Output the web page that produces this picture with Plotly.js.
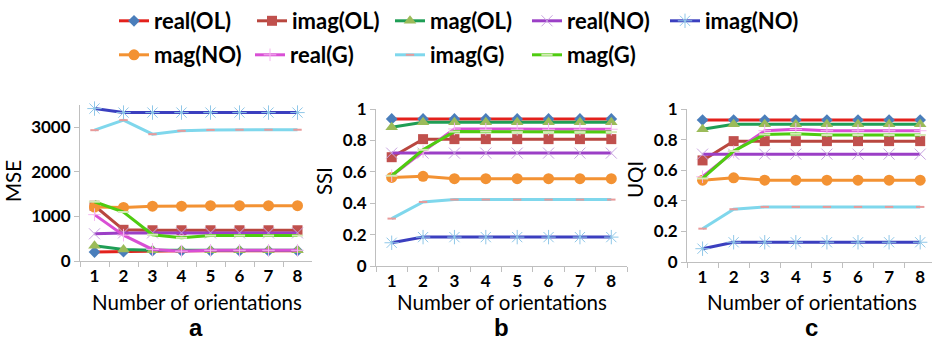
<!DOCTYPE html>
<html>
<head>
<meta charset="utf-8">
<script src="https://cdn.plot.ly/plotly-3.0.1.min.js"></script>
<style>html,body{margin:0;padding:0;background:#fff}#chart{width:932px;height:342px}</style>
</head>
<body>
<div id="chart"></div>
<script>
// ---- data ----
const orientations = ['1','2','3','4','5','6','7','8'];
const seriesNames = ['real(OL)','imag(OL)','mag(OL)','real(NO)','imag(NO)','mag(NO)','real(G)','imag(G)','mag(G)'];

// MSE (panel a)
const mse_realOL = [200, 210, 230, 230, 230, 230, 230, 230];
const mse_imagOL = [1240, 700, 690, 690, 690, 690, 690, 690];
const mse_magOL  = [340, 260, 240, 240, 240, 240, 240, 240];
const mse_realNO = [610, 630, 630, 630, 630, 630, 630, 630];
const mse_imagNO = [3420, 3330, 3330, 3330, 3330, 3330, 3330, 3330];
const mse_magNO  = [1210, 1200, 1230, 1230, 1240, 1240, 1240, 1240];
const mse_realG  = [1040, 580, 260, 220, 240, 240, 240, 240];
const mse_imagG  = [2935, 3160, 2845, 2920, 2940, 2945, 2945, 2945];
const mse_magG   = [1330, 1100, 590, 520, 570, 570, 570, 570];

// SSI (panel b)
const ssi_realOL = [0.937, 0.937, 0.937, 0.937, 0.937, 0.937, 0.937, 0.937];
const ssi_imagOL = [0.693, 0.808, 0.808, 0.808, 0.808, 0.808, 0.808, 0.808];
const ssi_magOL  = [0.884, 0.915, 0.915, 0.915, 0.915, 0.915, 0.915, 0.915];
const ssi_realNO = [0.719, 0.719, 0.719, 0.719, 0.719, 0.719, 0.719, 0.719];
const ssi_imagNO = [0.148, 0.184, 0.184, 0.184, 0.184, 0.184, 0.184, 0.184];
const ssi_magNO  = [0.564, 0.571, 0.556, 0.556, 0.556, 0.556, 0.556, 0.556];
const ssi_realG  = [0.575, 0.729, 0.873, 0.871, 0.871, 0.871, 0.871, 0.871];
const ssi_imagG  = [0.302, 0.408, 0.423, 0.423, 0.423, 0.423, 0.423, 0.423];
const ssi_magG   = [0.575, 0.740, 0.856, 0.856, 0.853, 0.853, 0.853, 0.853];

// UQI (panel c)
const uqi_realOL = [0.928, 0.928, 0.928, 0.928, 0.928, 0.928, 0.928, 0.928];
const uqi_imagOL = [0.664, 0.790, 0.790, 0.790, 0.790, 0.790, 0.790, 0.790];
const uqi_magOL  = [0.867, 0.900, 0.900, 0.900, 0.900, 0.900, 0.900, 0.900];
const uqi_realNO = [0.705, 0.705, 0.705, 0.705, 0.705, 0.705, 0.705, 0.705];
const uqi_imagNO = [0.087, 0.129, 0.129, 0.129, 0.129, 0.129, 0.129, 0.129];
const uqi_magNO  = [0.535, 0.550, 0.535, 0.535, 0.535, 0.535, 0.535, 0.535];
const uqi_realG  = [0.557, 0.720, 0.858, 0.867, 0.858, 0.858, 0.858, 0.858];
const uqi_imagG  = [0.218, 0.345, 0.360, 0.360, 0.360, 0.360, 0.360, 0.360];
const uqi_magG   = [0.546, 0.725, 0.834, 0.838, 0.830, 0.830, 0.830, 0.830];

const panelA = [mse_realOL, mse_imagOL, mse_magOL, mse_realNO, mse_imagNO, mse_magNO, mse_realG, mse_imagG, mse_magG];
const panelB = [ssi_realOL, ssi_imagOL, ssi_magOL, ssi_realNO, ssi_imagNO, ssi_magNO, ssi_realG, ssi_imagG, ssi_magG];
const panelC = [uqi_realOL, uqi_imagOL, uqi_magOL, uqi_realNO, uqi_imagNO, uqi_magNO, uqi_realG, uqi_imagG, uqi_magG];

// ---- styles ----
const styles = [
  {line:'#e3211c', mcol:'#4a7ebb', sym:'diamond', size:9, mlw:0},
  {line:'#b9473f', mcol:'#c0504d', sym:'square', size:10, mlw:0},
  {line:'#1f9e55', mcol:'#9bbb59', sym:'triangle-up', size:11, mlw:0},
  {line:'#9b3fc6', mcol:'#c8a4e0', sym:'x-thin-open', size:11, mlw:1},
  {line:'#3b3fbf', mcol:'#8fc7e8', sym:'asterisk-open', size:12, mlw:1},
  {line:'#f39233', mcol:'#f39233', sym:'circle', size:11, mlw:0},
  {line:'#d94fd5', mcol:'#f4b6f0', sym:'cross-thin-open', size:9, mlw:1},
  {line:'#7fd7ec', mcol:'#e89a9a', sym:'line-ew-open', size:6, mlw:2},
  {line:'#4fcc10', mcol:'#d5eab7', sym:'line-ew-open', size:8, mlw:2}
];

const W = 932, H = 342;
const traces = [];
const panels = [[panelA,'x','y'],[panelB,'x2','y2'],[panelC,'x3','y3']];
panels.forEach(function(p, pi){
  p[0].forEach(function(vals, i){
    const s = styles[i];
    traces.push({
      type:'scatter', mode:'lines+markers', x: orientations, y: vals,
      xaxis:p[1], yaxis:p[2], name: seriesNames[i],
      showlegend: pi === 0,
      legend: i === 0 ? 'legend' : 'legend' + (i+1),
      line:{color:s.line, width:3},
      marker:{symbol:s.sym, size:s.size, color:s.mcol, line:{color:s.mcol, width:s.mlw}},
      cliponaxis:false
    });
  });
});

const tickFont = {family:'Lato, "Open Sans", sans-serif', size:17, weight:700, color:'#000'};
function xax(d0, d1, r1, anchor){
  return {domain:[d0/W, d1/W], anchor:anchor, type:'category', range:[-0.5, r1],
    tickson:'boundaries', ticks:'outside', ticklen:5, tickcolor:'#bfbfbf',
    showline:true, linecolor:'#bfbfbf', linewidth:1, showgrid:false, zeroline:false,
    tickfont:tickFont, automargin:false, fixedrange:true};
}
function yax(b, t, range, dtick, anchor){
  return {domain:[(H-b)/H, (H-t)/H], anchor:anchor, range:range, dtick:dtick, tick0:0,
    ticks:'outside', ticklen:5, tickcolor:'#bfbfbf', showline:true, linecolor:'#bfbfbf', linewidth:1,
    showgrid:false, zeroline:false, tickfont:tickFont, automargin:false, fixedrange:true};
}

const layout = {
  width:W, height:H, margin:{l:0,r:0,t:0,b:0}, paper_bgcolor:'#fff', plot_bgcolor:'rgba(0,0,0,0)',
  xaxis: xax(80, 312, 7.5, 'y'),
  yaxis: yax(261, 105, [0,3500], 1000, 'x'),
  xaxis2: xax(376, 627, 7.5, 'y2'),
  yaxis2: yax(266, 109, [0,1], 0.2, 'x2'),
  xaxis3: xax(687, 932, 7.38, 'y3'),
  yaxis3: yax(262, 109, [0,1], 0.2, 'x3'),
  annotations: [],
  showlegend:true
};

// legends: one per entry, placed on two rows
const legendTextX = [154, 292, 430, 567, 705, 154, 290, 430, 567];
const legendRowY  = [21, 21, 21, 21, 21, 55, 55, 55, 55];
const legFont = {family:'Lato, "Open Sans", sans-serif', size:22, weight:700, color:'#000'};
for (let i = 0; i < 9; i++){
  const key = i === 0 ? 'legend' : 'legend' + (i+1);
  layout[key] = {x:(legendTextX[i]-40)/W, xanchor:'left', y:(H-legendRowY[i])/H, yanchor:'middle',
    orientation:'h', font:legFont, bgcolor:'rgba(0,0,0,0)', borderwidth:0, itemwidth:30};
}

const titleFont = {family:'Lato, "Open Sans", sans-serif', size:20.5, color:'#000'};
function ann(text, px, py, font, angle, yanchor){
  layout.annotations.push({text:text, xref:'paper', yref:'paper', x:px/W, y:(H-py)/H,
    xanchor:'center', yanchor:yanchor||'middle', showarrow:false, font:font, textangle:angle||0, borderpad:0});
}
ann('Number of orientations', 197, 301.5, titleFont);
ann('Number of orientations', 502, 301.5, titleFont);
ann('Number of orientations', 812, 301.5, titleFont);
ann('MSE', 13, 181, titleFont, -90);
ann('SSI', 324, 181, titleFont, -90);
ann('UQI', 635, 180, titleFont, -90);
const letterFont = {family:'"Liberation Sans", Arial, sans-serif', size:24, weight:700, color:'#000'};
ann('a', 196, 342, letterFont, 0, 'bottom');
ann('b', 501, 342, letterFont, 0, 'bottom');
ann('c', 811, 342, letterFont, 0, 'bottom');

Plotly.newPlot('chart', traces, layout, {staticPlot:true, displayModeBar:false});
</script>
</body>
</html>
